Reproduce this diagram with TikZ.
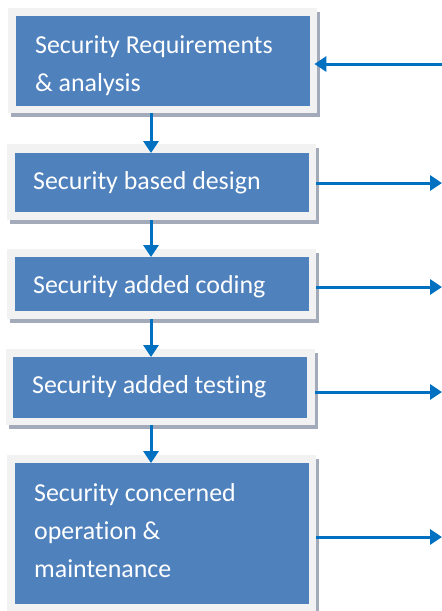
\documentclass[tikz,border=0pt]{standalone}
\usepackage{fontspec}
\setmainfont{Carlito}[RawFeature=-liga]
\usetikzlibrary{arrows.meta,shadows}
\definecolor{boxblue}{HTML}{4F81BD}
\definecolor{framegray}{HTML}{F2F2F2}
\definecolor{shadowgray}{HTML}{A3ABBB}
\definecolor{arrowblue}{HTML}{0070C0}
\tikzset{
  frame/.style={fill=framegray, draw=none, anchor=north west, inner sep=0pt,
    drop shadow={shadow xshift=3pt, shadow yshift=-4pt, fill=shadowgray, opacity=1}},
  inner/.style={fill=boxblue, draw=none, anchor=north west, inner sep=0pt},
  label/.style={anchor=base west, inner sep=0pt, text=white,
    font=\fontsize{25.9}{38}\selectfont, align=left},
  flow/.style={draw=arrowblue, line width=3pt,
    -{Triangle[length=12pt,width=15pt]}}
}
\begin{document}
\begin{tikzpicture}[x=1pt,y=-1pt]
\useasboundingbox (0,0) rectangle (442,611);

% outer frames with shadow
\node[frame, minimum width=309pt, minimum height=105pt] (f1) at (8,8) {};
\node[frame, minimum width=309pt, minimum height=76pt] (f2) at (7,144) {};
\node[frame, minimum width=309pt, minimum height=70pt] (f3) at (7,249) {};
\node[frame, minimum width=309pt, minimum height=76pt] (f4) at (6,349) {};
\node[frame, minimum width=309pt, minimum height=160pt] (f5) at (7,455) {};

% blue panels
\node[inner, minimum width=294pt, minimum height=90pt] (b1) at (16,16) {};
\node[inner, minimum width=294pt, minimum height=59pt] (b2) at (15,153) {};
\node[inner, minimum width=294pt, minimum height=54pt] (b3) at (15,257) {};
\node[inner, minimum width=294pt, minimum height=61pt] (b4) at (13,357) {};
\node[inner, minimum width=294pt, minimum height=141pt] (b5) at (15,463) {};

% labels (base anchor sits on the last line)
\node[label] (t1) at (35,91) {Security Requirements\\\& analysis};
\node[label] (t2) at (33,189) {Security based design};
\node[label] (t3) at (33,293) {Security added coding};
\node[label] (t4) at (32,393) {Security added testing};
\node[label] (t5) at (34,577) {Security concerned\\operation \&\\maintenance};

% free ends of the side arrows
\coordinate (e1) at (442,64);
\coordinate (e2) at (442,183);
\coordinate (e3) at (442,287);
\coordinate (e4) at (442,392);
\coordinate (e5) at (442,537);

% side arrows
\draw[flow, shorten >=-3pt] (e1) -- (f1.east |- e1);
\draw[flow] (f2.east |- e2) -- (e2);
\draw[flow] (f3.east |- e3) -- (e3);
\draw[flow] (f4.east |- e4) -- (e4);
\draw[flow] (f5.east |- e5) -- (e5);

% downward flow between stages
\draw[flow] (f1.south -| 151,0) -- (b2.north -| 151,0);
\draw[flow] (f2.south -| 151,0) -- (b3.north -| 151,0);
\draw[flow] (f3.south -| 151,0) -- (b4.north -| 151,0);
\draw[flow] (f4.south -| 151,0) -- (b5.north -| 151,0);
\end{tikzpicture}
\end{document}
